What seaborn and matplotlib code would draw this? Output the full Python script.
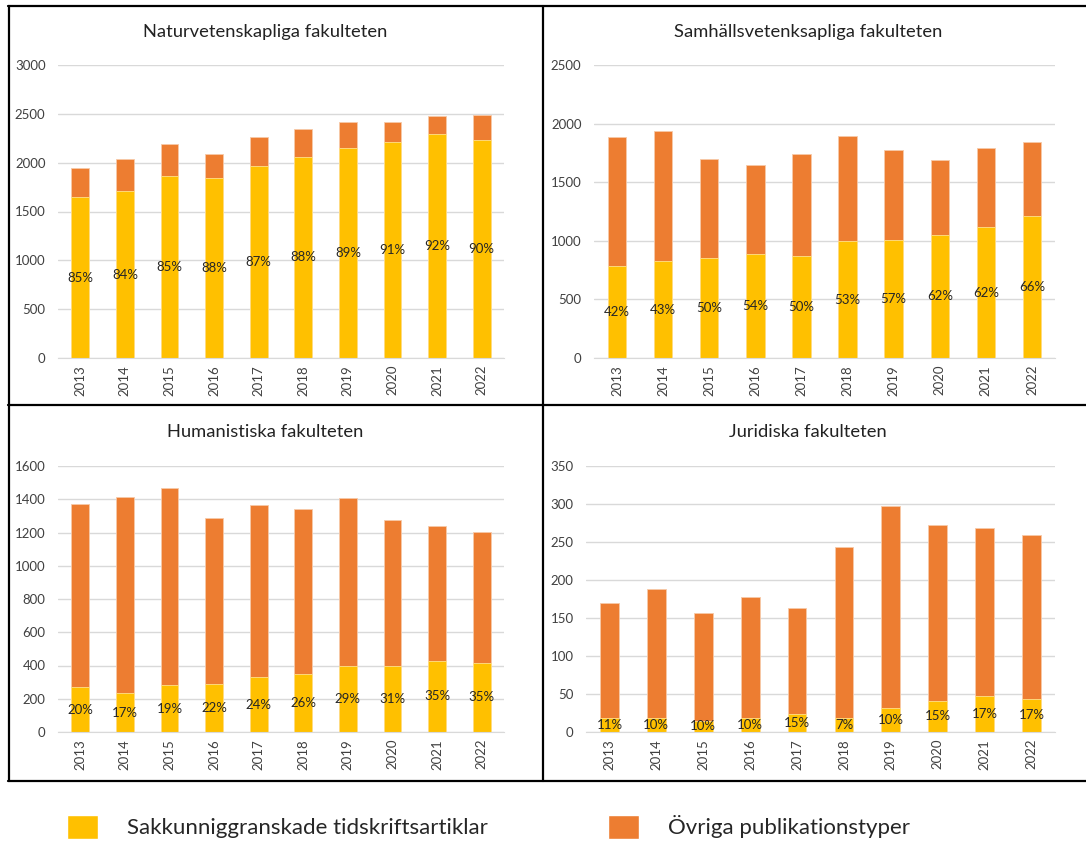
import matplotlib
matplotlib.use('Agg')
import matplotlib.pyplot as plt
from matplotlib.patches import Patch
from matplotlib.lines import Line2D
import seaborn as sns

sns.set_style('white')
plt.rcParams['font.family'] = ['Lato', 'DejaVu Sans']

YELLOW = '#FFC000'
ORANGE = '#ED7D31'

years = ['2013', '2014', '2015', '2016', '2017', '2018', '2019', '2020', '2021', '2022']

# Naturvetenskapliga fakulteten
natur_peer = [1647, 1705, 1866, 1842, 1961, 2060, 2149, 2214, 2293, 2231]
natur_total = [1941, 2033, 2187, 2091, 2259, 2341, 2416, 2416, 2477, 2484]
natur_pct = ['85%', '84%', '85%', '88%', '87%', '88%', '89%', '91%', '92%', '90%']

# Samhällsvetenskapliga fakulteten
samh_peer = [783, 826, 854, 888, 874, 996, 1008, 1051, 1116, 1213]
samh_total = [1888, 1936, 1694, 1646, 1737, 1893, 1779, 1688, 1788, 1845]
samh_pct = ['42%', '43%', '50%', '54%', '50%', '53%', '57%', '62%', '62%', '66%']

# Humanistiska fakulteten
hum_peer = [270, 234, 280, 286, 330, 350, 400, 394, 429, 417]
hum_total = [1374, 1416, 1470, 1290, 1366, 1340, 1410, 1276, 1242, 1202]
hum_pct = ['20%', '17%', '19%', '22%', '24%', '26%', '29%', '31%', '35%', '35%']

# Juridiska fakulteten
jur_peer = [18, 18, 15, 18, 24, 18, 31, 41, 47, 44]
jur_total = [170, 188, 157, 178, 163, 244, 297, 273, 269, 259]
jur_pct = ['11%', '10%', '10%', '10%', '15%', '7%', '10%', '15%', '17%', '17%']

W, H = 1086, 844
fig = plt.figure(figsize=(W / 100, H / 100), dpi=100)


def box(x0, y0, x1, y1):
    # pixel box -> figure fraction [left, bottom, width, height]
    return [x0 / W, 1 - y1 / H, (x1 - x0) / W, (y1 - y0) / H]


panels = [
    ('Naturvetenskapliga fakulteten', natur_peer, natur_total, natur_pct,
     3000, 500, box(58, 65, 504, 358), (265, 32)),
    ('Samhällsvetenksapliga fakulteten', samh_peer, samh_total, samh_pct,
     2500, 500, box(594, 65, 1055, 358), (808, 32)),
    ('Humanistiska fakulteten', hum_peer, hum_total, hum_pct,
     1600, 200, box(58, 466, 504, 732), (265, 432)),
    ('Juridiska fakulteten', jur_peer, jur_total, jur_pct,
     350, 50, box(586, 466, 1055, 732), (808, 432)),
]

for title, peer, total, pct, ymax, step, pos, tpos in panels:
    ax = fig.add_axes(pos)
    sns.barplot(x=years, y=total, color=ORANGE, saturation=1, width=0.4,
                edgecolor='#F7C9A8', linewidth=0.6, ax=ax)
    sns.barplot(x=years, y=peer, color=YELLOW, saturation=1, width=0.4,
                edgecolor='#FFE08A', linewidth=0.6, ax=ax)
    for i, (p, lab) in enumerate(zip(peer, pct)):
        ax.text(i, p / 2, lab, ha='center', va='center', fontsize=9.5,
                color='#262626')
    ax.set_ylim(0, ymax)
    ax.set_xlim(-0.5, len(years) - 0.5)
    ax.set_yticks(range(0, ymax + 1, step))
    ax.yaxis.grid(True, color='#D9D9D9', linewidth=1)
    ax.set_axisbelow(True)
    for s in ['top', 'right', 'left']:
        ax.spines[s].set_visible(False)
    ax.spines['bottom'].set_color('#D9D9D9')
    ax.tick_params(axis='both', length=0, labelsize=9.5, labelcolor='#404040')
    ax.tick_params(axis='x', rotation=90, pad=5)
    ax.tick_params(axis='y', pad=9)
    ax.set_xlabel('')
    ax.set_ylabel('')
    fig.text(tpos[0] / W, 1 - tpos[1] / H, title, ha='center', va='center',
             fontsize=13.2, color='#222222')

# panel frames
frame_lines = [
    ((8, 1086), (5.5, 5.5)),
    ((8, 1086), (405, 405)),
    ((8, 1086), (781, 781)),
    ((8.5, 8.5), (5.5, 781)),
    ((543, 543), (5.5, 781)),
]
for xs, ys in frame_lines:
    fig.add_artist(Line2D([x / W for x in xs], [1 - y / H for y in ys],
                          color='black', linewidth=1.6))

handles = [Patch(facecolor=YELLOW, label='Sakkunniggranskade tidskriftsartiklar'),
           Patch(facecolor=ORANGE, label='Övriga publikationstyper')]
fig.legend(handles=handles, loc='center left', bbox_to_anchor=(67 / W, 1 - 827 / H),
           ncol=2, frameon=False, fontsize=16, handlelength=1.4, handleheight=1.35,
           handletextpad=1.3, columnspacing=5.4, borderpad=0, borderaxespad=0)

fig.savefig('out.png', dpi=100)
